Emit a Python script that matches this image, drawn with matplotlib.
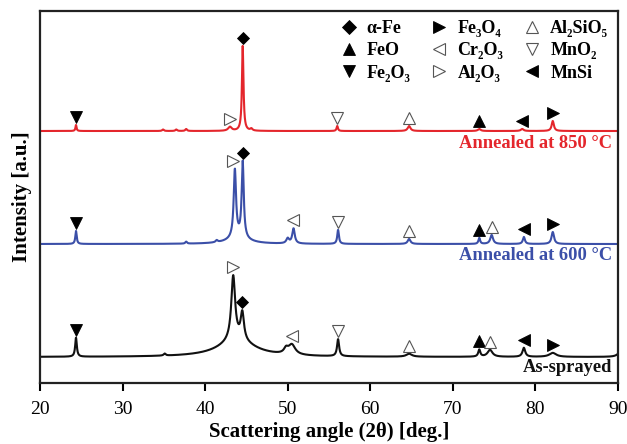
import numpy as np
import matplotlib
matplotlib.use("Agg")
import matplotlib.pyplot as plt
from matplotlib.lines import Line2D

plt.rcParams['font.family'] = ['Liberation Serif', 'DejaVu Serif']

# ---------------- data ----------------
angle_min, angle_max = 20, 90
xticks = [20, 30, 40, 50, 60, 70, 80, 90]

# baselines of the stacked patterns (arbitrary units)
base_850 = 252
base_600 = 139
base_as = 26

# peak lists: position (deg), height (a.u.), half width (deg)
pos_850 = [24.36, 34.9, 36.5, 37.7, 43.0, 44.55, 45.6, 56.0, 64.7, 73.2, 78.4, 82.1]
hgt_850 = [6, 1.5, 1.5, 2, 4, 85, 2, 5, 5, 2, 2, 10]
wid_850 = [0.08, 0.12, 0.12, 0.12, 0.25, 0.11, 0.15, 0.1, 0.2, 0.2, 0.2, 0.16]

pos_600 = [24.36, 37.7, 41.4, 44.0, 43.6, 44.55, 50.0, 50.7, 56.1, 64.7, 73.2, 74.7, 78.6, 82.1]
hgt_600 = [13, 2, 2, 6, 68, 76, 5, 15, 14, 5, 6, 9, 7, 12]
wid_600 = [0.1, 0.12, 0.15, 1.5, 0.17, 0.15, 0.2, 0.18, 0.12, 0.2, 0.12, 0.2, 0.15, 0.18]

pos_as = [24.36, 35.1, 43.8, 43.4, 44.5, 49.8, 50.5, 56.1, 64.7, 73.2, 74.5, 78.6, 82.1, 90.3]
hgt_as = [19, 2, 17, 64, 27, 5, 10, 17, 3, 7, 7, 9, 4, 5]
wid_as = [0.12, 0.15, 2.6, 0.28, 0.24, 0.3, 0.5, 0.15, 0.4, 0.15, 0.35, 0.2, 0.5, 0.4]

# phase markers placed on each pattern: (angle, phase)
marks_850 = [(24.36, 'Fe2O3'), (43.0, 'Al2O3'), (44.55, 'aFe'), (56.0, 'MnO2'),
             (64.7, 'Al2SiO5'), (73.2, 'FeO'), (78.4, 'MnSi'), (82.1, 'Fe3O4')]
marks_600 = [(24.36, 'Fe2O3'), (43.4, 'Al2O3'), (44.55, 'aFe'), (50.6, 'Cr2O3'),
             (56.1, 'MnO2'), (64.7, 'Al2SiO5'), (73.2, 'FeO'), (74.7, 'Al2SiO5'),
             (78.6, 'MnSi'), (82.1, 'Fe3O4')]
marks_as = [(24.36, 'Fe2O3'), (43.4, 'Al2O3'), (44.5, 'aFe'), (50.5, 'Cr2O3'),
            (56.1, 'MnO2'), (64.7, 'Al2SiO5'), (73.2, 'FeO'), (74.5, 'Al2SiO5'),
            (78.6, 'MnSi'), (82.1, 'Fe3O4')]

series_labels = ['Annealed at 850 °C', 'Annealed at 600 °C', 'As-sprayed']
series_colors = ['#e4262c', '#3b4fa8', '#111111']

phase_order = ['aFe', 'FeO', 'Fe2O3', 'Fe3O4', 'Cr2O3', 'Al2O3', 'Al2SiO5', 'MnO2', 'MnSi']
phase_names = ['α-Fe', 'FeO', 'Fe₂O₃', 'Fe₃O₄', 'Cr₂O₃', 'Al₂O₃', 'Al₂SiO₅', 'MnO₂', 'MnSi']
phase_marker = {'aFe': 'D', 'FeO': '^', 'Fe2O3': 'v', 'Fe3O4': '>', 'Cr2O3': '<',
                'Al2O3': '>', 'Al2SiO5': '^', 'MnO2': 'v', 'MnSi': '<'}
phase_filled = {'aFe': True, 'FeO': True, 'Fe2O3': True, 'Fe3O4': True, 'Cr2O3': False,
                'Al2O3': False, 'Al2SiO5': False, 'MnO2': False, 'MnSi': True}

# ---------------- build curves ----------------
x = np.linspace(angle_min, angle_max, 3500)


def pattern(base, pos, hgt, wid):
    y = np.full_like(x, float(base))
    for p, h, w in zip(pos, hgt, wid):
        y += h / (1 + ((x - p) / w) ** 2)
    return y


curves = [pattern(base_850, pos_850, hgt_850, wid_850),
          pattern(base_600, pos_600, hgt_600, wid_600),
          pattern(base_as, pos_as, hgt_as, wid_as)]
marks = [marks_850, marks_600, marks_as]

fig = plt.figure(figsize=(6.27, 4.44), dpi=100)
ax = fig.add_axes([40 / 627, 61 / 444, 578 / 627, 372 / 444])


def style(ph):
    if phase_filled[ph]:
        return dict(marker=phase_marker[ph], markerfacecolor='black', markeredgecolor='black',
                    markeredgewidth=0.6)
    return dict(marker=phase_marker[ph], markerfacecolor='white', markeredgecolor='#555555',
                markeredgewidth=0.8)


for y, c, mk in zip(curves, series_colors, marks):
    ax.plot(x, y, color=c, lw=1.5)
    for a, ph in mk:
        sel = np.abs(x - a) < 0.25
        top = y[sel].max()
        ms = 6.5 if phase_marker[ph] == 'D' else 8
        ax.plot([a], [top + 8], linestyle='none', markersize=ms, **style(ph), zorder=5)

label_y = [base_850 - 12, base_600 - 12, base_as - 10]
for lab, c, ly in zip(series_labels, series_colors, label_y):
    ax.text(89.3, ly, lab, color=c, fontsize=13.3, fontweight='bold',
            ha='right', va='center')

ax.set_xlim(angle_min, angle_max)
ax.set_ylim(0, 372)
ax.set_xticks(xticks)
ax.set_yticks([])
ax.tick_params(axis='x', direction='out', length=6, width=1.5, labelsize=14, pad=7)
for s in ax.spines.values():
    s.set_linewidth(1.6)
    s.set_color('#222222')
ax.set_xlabel('Scattering angle (2θ) [deg.]', fontsize=15, fontweight='bold', labelpad=3)
ax.set_ylabel('Intensity [a.u.]', fontsize=15, fontweight='bold', labelpad=6)

handles = []
for ph, nm in zip(phase_order, phase_names):
    ms = 7 if phase_marker[ph] == 'D' else 9
    handles.append(Line2D([], [], linestyle='none', markersize=ms, label=nm, **style(ph)))
ax.legend(handles=handles, ncol=3, loc='upper right', bbox_to_anchor=(1.005, 1.01),
          frameon=False, prop={'weight': 'bold', 'size': 13}, handlelength=1.0,
          handletextpad=0.5, columnspacing=1.1, labelspacing=0.3, borderaxespad=0.3)

fig.savefig('out.png', dpi=100)
